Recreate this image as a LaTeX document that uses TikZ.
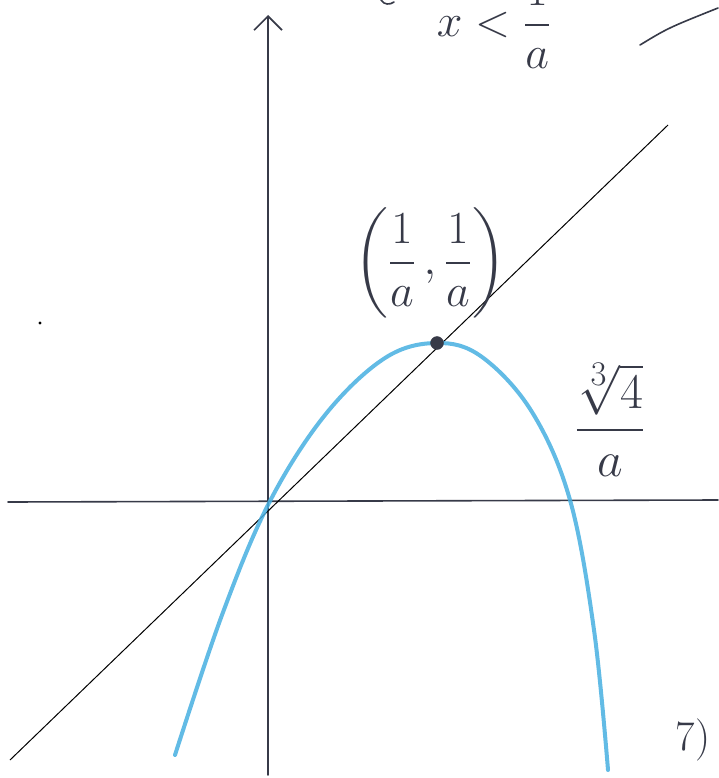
\documentclass[tikz,border=0pt]{standalone}
\usepackage{amsmath}
\usepackage{amsfonts}
\usepackage{graphicx}
\usetikzlibrary{arrows.meta}
\definecolor{pencilblue}{RGB}{70,175,225}
\definecolor{inkgray}{RGB}{55,58,72}
\newcommand{\bigink}[2][1.85]{\scalebox{#1}{#2}}
\begin{document}
\begin{tikzpicture}[x=1pt,y=-1pt,
  ink/.style={inkgray,line width=1.6pt,line cap=round},
  hand/.style={inkgray,font=\Huge}]
  \useasboundingbox (0,0) rectangle (718,778);
  \coordinate (O) at (269,503);
  \coordinate (yb) at (268,775);
  \coordinate (yt) at (268,15);
  \coordinate (xl) at (8,502);
  \coordinate (xr) at (718,500);
  \coordinate (dl) at (10,760);
  \coordinate (dr) at (668,125);
  \draw[ink,-{Straight Barb[length=14pt,width=28pt]}] (yb) -- (yt);
  \draw[ink] (xl) -- (xr);
  \draw[black,line width=1pt] (dl) -- (dr);
  \draw[pencilblue,line width=4pt,opacity=0.85,line cap=round] plot[smooth,tension=0.6] coordinates
    {(175,755) (222,615) (O) (325,415) (385,358) (437,343) (482,357) (532,412) (570,500) (594,630) (608,770)};
  \filldraw[inkgray] (437,343) circle (6.5) node (peak) {};
  \node[hand] (point) at (430,263) {\bigink{$\left(\dfrac{1}{a}\,,\dfrac{1}{a}\right)$}};
  \node[hand] (root) at (610,420) {\bigink[2]{$\dfrac{\sqrt[3]{4}}{a}$}};
  \node[hand] (cond) at (494,22) {\bigink{$x<\dfrac{1}{a}$}};
  \node[hand] (num) at (693,740) {\bigink[1.7]{7)}};
  \draw[ink] (640,45) .. controls (668,28) .. (718,8);
  \draw[ink] (381,0) .. controls (384,5) and (390,5) .. (394,2);
  \fill[black] (40,323) circle (1.6);
\end{tikzpicture}
\end{document}
